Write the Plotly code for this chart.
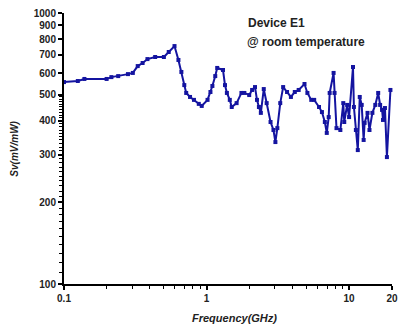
import plotly.graph_objects as go

# Data
freq_ghz = [0.1, 0.125, 0.139, 0.199, 0.215, 0.240, 0.281, 0.304, 0.329, 0.356,
            0.385, 0.436, 0.502, 0.543, 0.596, 0.635, 0.666, 0.698, 0.720, 0.766,
            0.816, 0.882, 0.925, 1.016, 1.065, 1.099, 1.151, 1.188, 1.305, 1.347,
            1.389, 1.456, 1.502, 1.625, 1.757, 1.842, 1.992, 2.088, 2.188, 2.258,
            2.330, 2.404, 2.520, 2.641, 2.812, 2.948, 3.041, 3.138, 3.289, 3.447,
            3.670, 3.907, 4.159, 4.429, 4.866, 5.099, 5.428, 5.690, 6.153, 6.449,
            6.759, 6.973, 7.194, 7.308, 7.785, 7.907, 8.158, 8.685, 9.104, 9.247,
            9.692, 10.0, 10.65, 10.81, 11.16, 11.51, 11.88, 12.26, 12.65, 12.85,
            13.47, 13.90, 14.57, 15.27, 16.00, 16.51, 17.03, 17.30, 17.85, 18.42,
            19.5]
sv_mv_per_mw = [556, 561, 571, 571, 580, 585, 595, 601, 637, 654,
                676, 688, 688, 718, 755, 671, 606, 542, 507, 490,
                478, 462, 454, 478, 511, 538, 585, 627, 616, 542,
                507, 478, 450, 465, 507, 507, 498, 520, 533, 478,
                450, 428, 524, 465, 396, 370, 334, 376, 465, 533,
                511, 490, 511, 520, 547, 507, 478, 478, 450, 431,
                396, 361, 413, 507, 601, 507, 376, 370, 465, 396,
                458, 413, 632, 450, 370, 312, 490, 458, 340, 393,
                428, 370, 428, 458, 507, 458, 439, 403, 446, 294,
                520]

x_tick_vals = [0.1, 1, 10, 20]
x_tick_text = ["0.1", "1", "10", "20"]
y_tick_vals = [100, 200, 300, 400, 500, 600, 700, 800, 900, 1000]
y_tick_text = ["100", "200", "300", "400", "500", "600", "700", "800", "900", "1000"]
x_minor_vals = [0.2, 0.3, 0.4, 0.5, 0.6, 0.7, 0.8, 0.9,
                2, 3, 4, 5, 6, 7, 8, 9]
y_minor_vals = [v for v in range(110, 500, 10) if v % 100 != 0]

FONT = "Liberation Sans, Arial, sans-serif"
BLUE = "#1414a0"
TXT = "#222222"

fig = go.Figure()
fig.add_trace(go.Scatter(
    x=freq_ghz, y=sv_mv_per_mw, mode="lines+markers",
    line=dict(color=BLUE, width=2, shape="linear"),
    marker=dict(symbol="square", size=4, color=BLUE),
    showlegend=False, hoverinfo="x+y", cliponaxis=False,
))

axis_common = dict(
    showline=True, linecolor="black", linewidth=2, mirror=False,
    showgrid=False, zeroline=False, automargin=False,
    ticks="outside", ticklen=4, tickwidth=1.5, tickcolor="black",
    ticklabeloverflow="allow",
    tickfont=dict(family=FONT, size=10, color=TXT, weight="bold"),
)

fig.update_xaxes(
    type="log", range=[-1, 1.30103],
    tickmode="array", tickvals=x_tick_vals, ticktext=x_tick_text,
    minor=dict(tickmode="array", tickvals=x_minor_vals, ticks="outside",
               ticklen=3, tickwidth=1.2, tickcolor="black"),
    **axis_common,
)
fig.update_yaxes(
    type="log", range=[2, 3],
    tickmode="array", tickvals=y_tick_vals, ticktext=y_tick_text,
    minor=dict(tickmode="array", tickvals=y_minor_vals, ticks="outside",
               ticklen=3, tickwidth=1, tickcolor="black"),
    **axis_common,
)

fig.add_annotation(text="<b><i>Frequency(GHz)</i></b>", xref="paper", yref="paper",
                   x=0.52, y=-0.125, xanchor="center", yanchor="middle",
                   showarrow=False, font=dict(family=FONT, size=11, color=TXT))
fig.add_annotation(text="<b><i>Sv(mV/mW)</i></b>", xref="paper", yref="paper",
                   x=-0.152, y=0.5, xanchor="center", yanchor="middle", textangle=-90,
                   showarrow=False, font=dict(family=FONT, size=10, color=TXT))
fig.add_annotation(text="<b>Device E1</b>", xref="paper", yref="paper",
                   x=0.556, y=0.963, xanchor="left", yanchor="middle",
                   showarrow=False, font=dict(family=FONT, size=12, color=TXT))
fig.add_annotation(text="<b>@ room temperature</b>", xref="paper", yref="paper",
                   x=0.552, y=0.893, xanchor="left", yanchor="middle",
                   showarrow=False, font=dict(family=FONT, size=12, color=TXT))

# the page body has an 8px margin, so the figure is sized to fit the window
fig.update_layout(
    width=390, height=319,
    margin=dict(l=56, r=6, t=5, b=43),
    paper_bgcolor="white", plot_bgcolor="white",
    font=dict(family=FONT),
)

fig.write_html("out.html")
